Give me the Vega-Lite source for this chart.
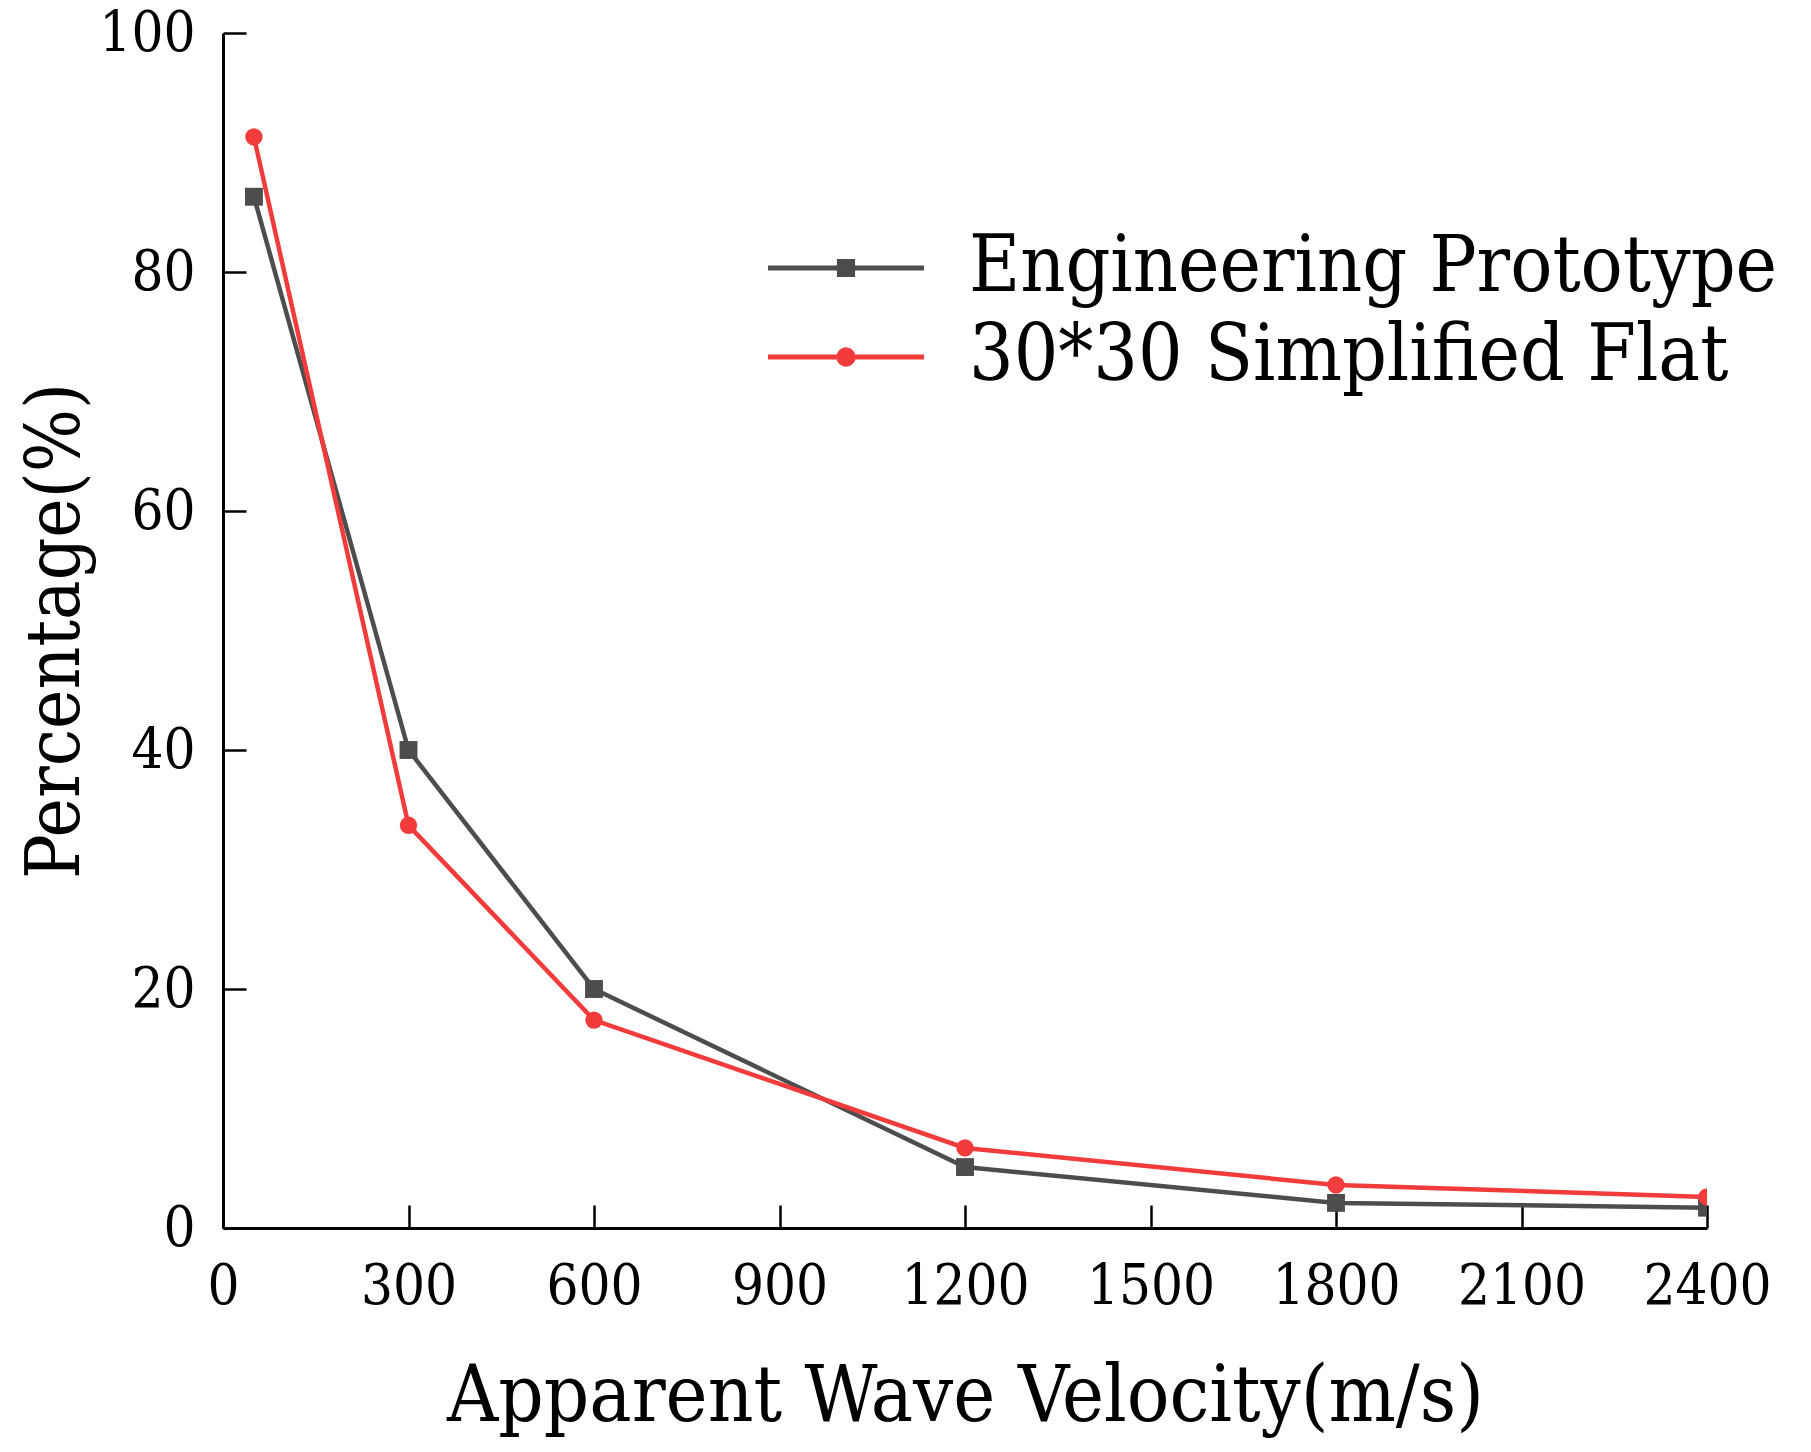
{
  "$schema": "https://vega.github.io/schema/vega-lite/v6.json",
  "width": 1484,
  "height": 1195,
  "autosize": {"type": "none"},
  "padding": {"left": 223, "top": 33, "right": 104, "bottom": 224},
  "background": "white",
  "data": {
    "values": [
      {"velocity": 50, "percentage": 86.3, "series": "Engineering Prototype"},
      {"velocity": 300, "percentage": 40.0, "series": "Engineering Prototype"},
      {"velocity": 600, "percentage": 20.0, "series": "Engineering Prototype"},
      {"velocity": 1200, "percentage": 5.1, "series": "Engineering Prototype"},
      {"velocity": 1800, "percentage": 2.1, "series": "Engineering Prototype"},
      {"velocity": 2400, "percentage": 1.7, "series": "Engineering Prototype"},
      {"velocity": 50, "percentage": 91.3, "series": "30*30 Simplified Flat"},
      {"velocity": 300, "percentage": 33.7, "series": "30*30 Simplified Flat"},
      {"velocity": 600, "percentage": 17.4, "series": "30*30 Simplified Flat"},
      {"velocity": 1200, "percentage": 6.7, "series": "30*30 Simplified Flat"},
      {"velocity": 1800, "percentage": 3.6, "series": "30*30 Simplified Flat"},
      {"velocity": 2400, "percentage": 2.6, "series": "30*30 Simplified Flat"}
    ]
  },
  "encoding": {
    "x": {
      "field": "velocity",
      "type": "quantitative",
      "title": "Apparent Wave Velocity(m/s)",
      "scale": {"domain": [0, 2400], "nice": false},
      "axis": {
        "values": [0, 300, 600, 900, 1200, 1500, 1800, 2100, 2400],
        "format": "d",
        "labelOverlap": false,
        "labelFlush": false,
        "labelPadding": 54,
        "titlePadding": 44,
        "titleFontSize": 79
      }
    },
    "y": {
      "field": "percentage",
      "type": "quantitative",
      "title": "Percentage(%)",
      "scale": {"domain": [0, 100], "nice": false},
      "axis": {"values": [0, 20, 40, 60, 80, 100], "labelFlush": false, "labelPadding": 51, "titlePadding": 4}
    }
  },
  "layer": [
    {
      "transform": [{"filter": "datum.series === 'Engineering Prototype'"}],
      "mark": {"type": "line", "color": "#4d4d4d", "strokeWidth": 4.5}
    },
    {
      "transform": [{"filter": "datum.series === '30*30 Simplified Flat'"}],
      "mark": {"type": "line", "color": "#f23b3b", "strokeWidth": 4.5}
    },
    {
      "transform": [{"filter": "datum.series === 'Engineering Prototype'"}],
      "mark": {"type": "square", "color": "#4d4d4d", "size": 320, "opacity": 1, "clip": true}
    },
    {
      "transform": [{"filter": "datum.series === '30*30 Simplified Flat'"}],
      "mark": {"type": "circle", "color": "#f23b3b", "size": 300, "opacity": 1, "clip": true}
    },
    {
      "mark": {"type": "point", "filled": true, "opacity": 0},
      "encoding": {
        "color": {
          "field": "series",
          "type": "nominal",
          "scale": {"domain": ["Engineering Prototype", "30*30 Simplified Flat"], "range": ["#4d4d4d", "#f23b3b"]},
          "legend": {
            "title": null,
            "orient": "none",
            "legendX": 584,
            "legendY": 196,
            "padding": 0,
            "symbolSize": 3600,
            "symbolStrokeWidth": 5,
            "symbolOpacity": 1,
            "labelOffset": 84,
            "labelFont": "DejaVu Serif Condensed",
            "labelFontSize": 78,
            "labelColor": "black",
            "labelLimit": 0,
            "rowPadding": 11,
            "encode": {"symbols": {"update": {"stroke": {"scale": "color", "field": "value"}}}}
          }
        },
        "shape": {
          "field": "series",
          "type": "nominal",
          "scale": {
            "domain": ["Engineering Prototype", "30*30 Simplified Flat"],
            "range": [
              "M-2.6,0H2.6M-0.22,-0.22H0.22V0.22H-0.22Z",
              "M-2.6,0H2.6M0.24,0A0.24,0.24,0,1,1,-0.24,0A0.24,0.24,0,1,1,0.24,0Z"
            ]
          }
        }
      }
    }
  ],
  "config": {
    "view": {"stroke": null},
    "axis": {
      "grid": false,
      "domainColor": "black",
      "domainWidth": 3,
      "tickColor": "black",
      "tickWidth": 2.5,
      "tickSize": -23,
      "labelFont": "DejaVu Serif Condensed",
      "labelFontSize": 56,
      "labelColor": "black",
      "titleFont": "DejaVu Serif Condensed",
      "titleFontSize": 74,
      "titleFontWeight": "normal",
      "titleColor": "black"
    }
  }
}
